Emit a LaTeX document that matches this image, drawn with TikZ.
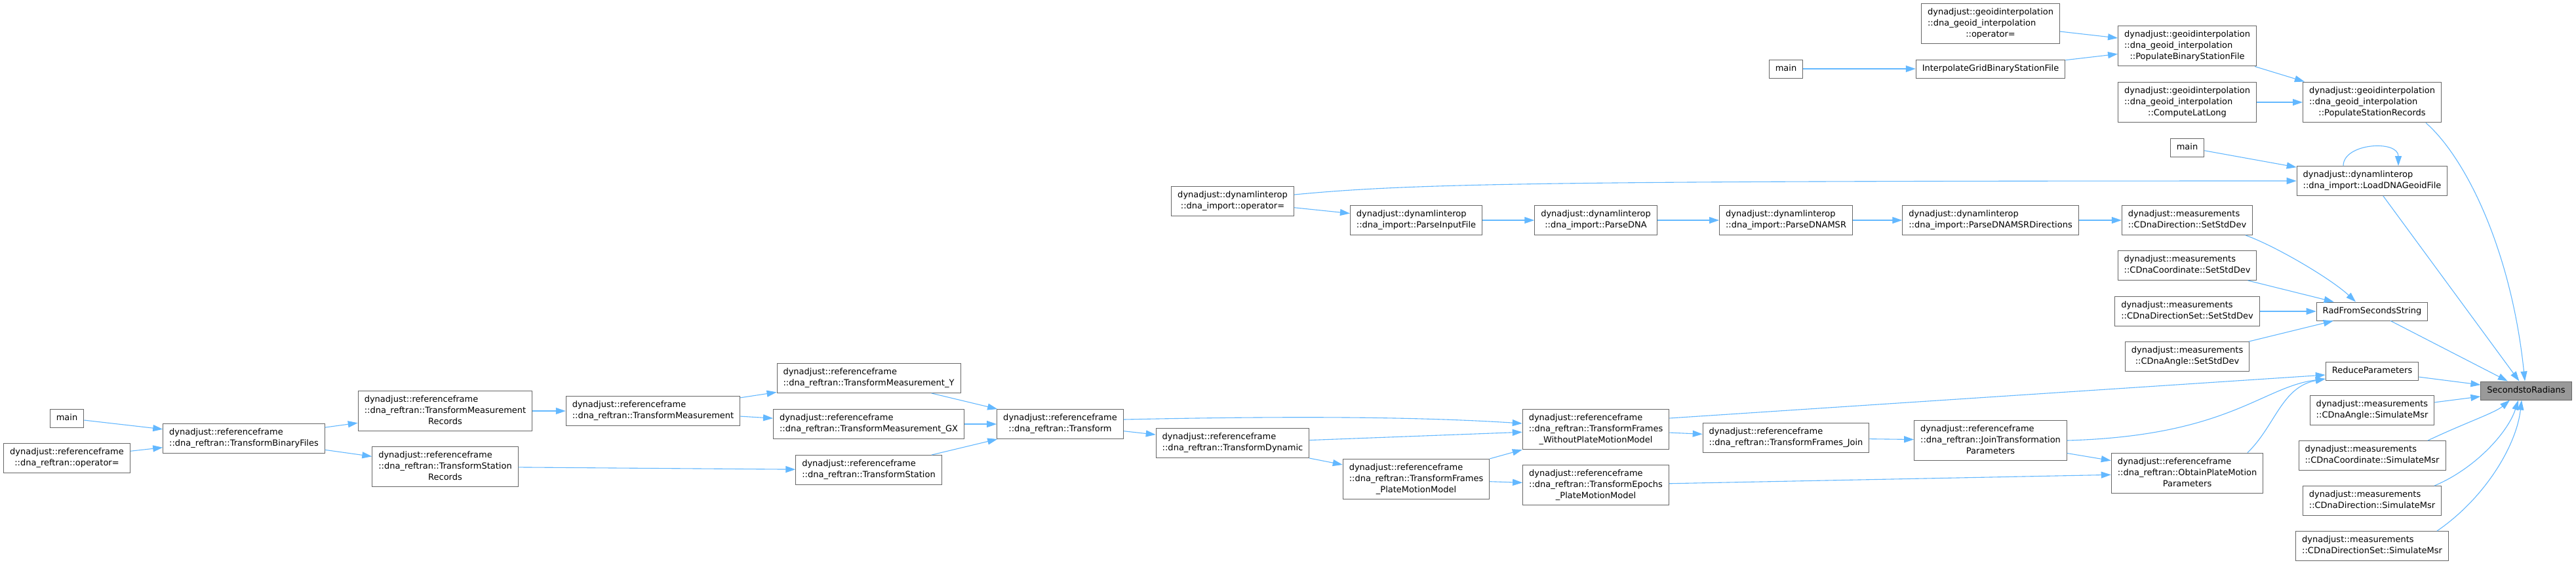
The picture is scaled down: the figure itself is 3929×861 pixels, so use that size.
\documentclass[tikz,border=0pt]{standalone}
\usepackage{fontspec}
\setmainfont{DejaVu Sans}
\usetikzlibrary{arrows.meta}
\definecolor{edgeblue}{HTML}{63B8FF}
\definecolor{boxline}{HTML}{666666}
\definecolor{rootfill}{HTML}{999999}
\newcommand{\dxfont}{\fontsize{3.7pt}{4.83pt}\selectfont}
% first lines left, last line centred
\newcommand{\fnlab}[2]{\begin{tabular}{@{}l@{}}#1\\\multicolumn{1}{@{}c@{}}{#2}\end{tabular}}

\begin{document}
\begin{tikzpicture}[x=0.1mm,y=0.1mm,>={Triangle[length=1.5mm,width=1.0mm]},
  fn/.style={draw=boxline,line width=0.1mm,fill=white,font=\dxfont,inner xsep=0.95mm,inner ysep=0.55mm},
  root/.style={fn,fill=rootfill},
  call/.style={->,draw=edgeblue,line width=0.11mm}]
\fill[white] (0,0) rectangle (3929,-861);
\useasboundingbox (0,0) rectangle (3929,-861);

% callee and its direct callers
\node[root] (s2r) at (3853,-596) {\strut SecondstoRadians};
\node[fn] (popsr) at (3618,-156) {\fnlab{dynadjust::geoidinterpolation\\::dna\_geoid\_interpolation}{::PopulateStationRecords}};
\node[fn] (loadgeoid) at (3618,-276) {\fnlab{dynadjust::dynamlinterop}{::dna\_import::LoadDNAGeoidFile}};
\node[fn] (radfss) at (3618,-475) {\strut RadFromSecondsString};
\node[fn] (reducep) at (3618,-566) {\strut ReduceParameters};
\node[fn] (angsim) at (3618,-626) {\fnlab{dynadjust::measurements}{::CDnaAngle::SimulateMsr}};
\node[fn] (coordsim) at (3618,-695) {\fnlab{dynadjust::measurements}{::CDnaCoordinate::SimulateMsr}};
\node[fn] (dirsim) at (3618,-764) {\fnlab{dynadjust::measurements}{::CDnaDirection::SimulateMsr}};
\node[fn] (dirsetsim) at (3618,-833) {\fnlab{dynadjust::measurements}{::CDnaDirectionSet::SimulateMsr}};

\node[fn] (popbin) at (3336,-70) {\fnlab{dynadjust::geoidinterpolation\\::dna\_geoid\_interpolation}{::PopulateBinaryStationFile}};
\node[fn] (latlong) at (3336,-156) {\fnlab{dynadjust::geoidinterpolation\\::dna\_geoid\_interpolation}{::ComputeLatLong}};
\node[fn] (mainc) at (3336,-225) {\strut main};
\node[fn] (dirstd) at (3336,-336) {\fnlab{dynadjust::measurements}{::CDnaDirection::SetStdDev}};
\node[fn] (coordstd) at (3336,-405) {\fnlab{dynadjust::measurements}{::CDnaCoordinate::SetStdDev}};
\node[fn] (dirsetstd) at (3336,-475) {\fnlab{dynadjust::measurements}{::CDnaDirectionSet::SetStdDev}};
\node[fn] (angstd) at (3336,-544) {\fnlab{dynadjust::measurements}{::CDnaAngle::SetStdDev}};
\node[fn] (obtainp) at (3336,-722) {\fnlab{dynadjust::referenceframe\\::dna\_reftran::ObtainPlateMotion}{Parameters}};

\node[fn] (geoidop) at (3036,-36) {\fnlab{dynadjust::geoidinterpolation\\::dna\_geoid\_interpolation}{::operator=}};
\node[fn] (interp) at (3036,-105) {\strut InterpolateGridBinaryStationFile};
\node[fn] (msrdir) at (3036,-336) {\fnlab{dynadjust::dynamlinterop}{::dna\_import::ParseDNAMSRDirections}};
\node[fn] (joinp) at (3036,-672) {\fnlab{dynadjust::referenceframe\\::dna\_reftran::JoinTransformation}{Parameters}};

\node[fn] (mainb) at (2724,-105) {\strut main};
\node[fn] (parsemsr) at (2724,-336) {\fnlab{dynadjust::dynamlinterop}{::dna\_import::ParseDNAMSR}};
\node[fn] (tfjoin) at (2724,-668) {\fnlab{dynadjust::referenceframe}{::dna\_reftran::TransformFrames\_Join}};

\node[fn] (parsedna) at (2434,-336) {\fnlab{dynadjust::dynamlinterop}{::dna\_import::ParseDNA}};
\node[fn] (tfwo) at (2434,-655) {\fnlab{dynadjust::referenceframe\\::dna\_reftran::TransformFrames}{\_WithoutPlateMotionModel}};
\node[fn] (tepmm) at (2434,-740) {\fnlab{dynadjust::referenceframe\\::dna\_reftran::TransformEpochs}{\_PlateMotionModel}};

\node[fn] (parsein) at (2160,-336) {\fnlab{dynadjust::dynamlinterop}{::dna\_import::ParseInputFile}};
\node[fn] (tfpmm) at (2160,-731) {\fnlab{dynadjust::referenceframe\\::dna\_reftran::TransformFrames}{\_PlateMotionModel}};

\node[fn] (importop) at (1880,-307) {\fnlab{dynadjust::dynamlinterop}{::dna\_import::operator=}};
\node[fn] (tdyn) at (1880,-676) {\fnlab{dynadjust::referenceframe}{::dna\_reftran::TransformDynamic}};
\node[fn] (transf) at (1617,-647) {\fnlab{dynadjust::referenceframe}{::dna\_reftran::Transform}};

\node[fn] (tmy) at (1325,-577) {\fnlab{dynadjust::referenceframe}{::dna\_reftran::TransformMeasurement\_Y}};
\node[fn] (tmgx) at (1325,-647) {\fnlab{dynadjust::referenceframe}{::dna\_reftran::TransformMeasurement\_GX}};
\node[fn] (tstat) at (1325,-717) {\fnlab{dynadjust::referenceframe}{::dna\_reftran::TransformStation}};
\node[fn] (tmeas) at (996,-627) {\fnlab{dynadjust::referenceframe}{::dna\_reftran::TransformMeasurement}};
\node[fn] (tmrec) at (679,-627) {\fnlab{dynadjust::referenceframe\\::dna\_reftran::TransformMeasurement}{Records}};
\node[fn] (tsrec) at (679,-712) {\fnlab{dynadjust::referenceframe\\::dna\_reftran::TransformStation}{Records}};
\node[fn] (tbin) at (372,-669) {\fnlab{dynadjust::referenceframe}{::dna\_reftran::TransformBinaryFiles}};
\node[fn] (maina) at (102,-638) {\strut main};
\node[fn] (reftranop) at (102,-699) {\fnlab{dynadjust::referenceframe}{::dna\_reftran::operator=}};

% straight calls
\foreach \a/\b in {maina/tbin,reftranop/tbin,tbin/tmrec,tbin/tsrec,tmrec/tmeas,tsrec/tstat,
  tmeas/tmy,tmeas/tmgx,tmy/transf,tmgx/transf,tstat/transf,transf/tdyn,tdyn/tfwo,tdyn/tfpmm,
  tfpmm/tfwo,tfpmm/tepmm,tfwo/tfjoin,tfjoin/joinp,tepmm/obtainp,joinp/obtainp,
  importop/parsein,parsein/parsedna,parsedna/parsemsr,parsemsr/msrdir,msrdir/dirstd,
  coordstd/radfss,dirsetstd/radfss,angstd/radfss,radfss/s2r,loadgeoid/s2r,reducep/s2r,angsim/s2r,
  mainb/interp,geoidop/popbin,interp/popbin,popbin/popsr,latlong/popsr,mainc/loadgeoid}
  \draw[call] (\a) -- (\b);

% curved calls
\draw[call] ([yshift=1mm]importop.east) .. controls (2150,-280) and (2350,-276) .. (loadgeoid.west);
\draw[call] ([yshift=0.7mm]transf.east) .. controls (1950,-635) and (2150,-635) .. ([yshift=0.9mm]tfwo.west);
\draw[call] ([yshift=1.7mm]tfwo.east) -- ([yshift=-0.6mm]reducep.west);
\draw[call] (joinp.east) .. controls (3400,-665) and (3450,-590) .. ([yshift=-1.2mm]reducep.west);
\draw[call] ([xshift=9.2mm]obtainp.north) .. controls (3470,-650) and (3480,-590) .. ([yshift=-1.2mm]reducep.west);
\draw[call] ([xshift=8.9mm]dirstd.south) .. controls (3470,-375) and (3555,-425) .. ([xshift=-2.5mm]radfss.north);
\draw[call] ([xshift=8.2mm]popsr.south) .. controls (3760,-240) and (3830,-380) .. ([xshift=-0.2mm]s2r.north);
\draw[call] ([xshift=8.5mm]coordsim.north) .. controls (3760,-645) and (3805,-630) .. ([xshift=-2.5mm]s2r.south);
\draw[call] ([xshift=9.5mm]dirsim.north) .. controls (3775,-715) and (3825,-660) .. ([xshift=-1.2mm]s2r.south);
\draw[call] ([xshift=9.9mm]dirsetsim.north) .. controls (3790,-760) and (3838,-680) .. ([xshift=-0.7mm]s2r.south);
\draw[call] ([xshift=-4.4mm]loadgeoid.north) .. controls +(0,35) and +(0,40) .. ([xshift=4mm]loadgeoid.north);
\end{tikzpicture}
\end{document}
